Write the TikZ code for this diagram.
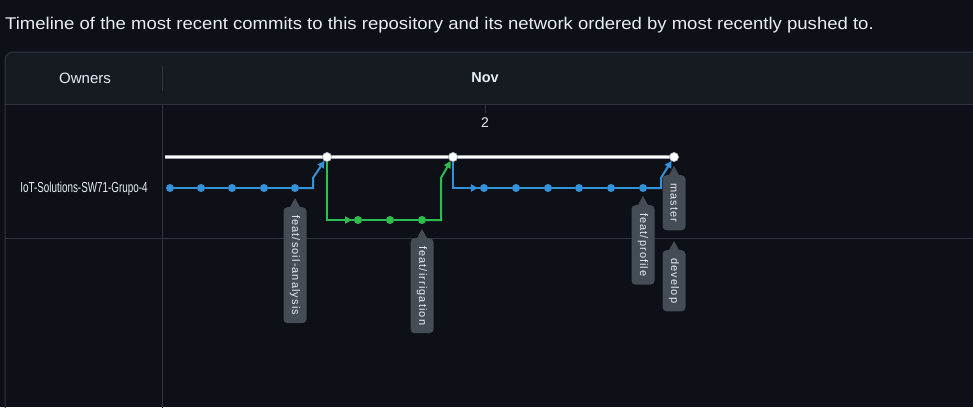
\documentclass[tikz,border=0pt]{standalone}
\usepackage{fontspec}
\setmainfont{Liberation Sans}
\newfontfamily\lblfontfam[LetterSpace=10]{Liberation Sans}
\usetikzlibrary{arrows.meta,calc}
\definecolor{pagebg}{HTML}{0D1117}
\definecolor{hdrbg}{HTML}{161B22}
\definecolor{bord}{HTML}{30363D}
\definecolor{fgtext}{HTML}{E6EDF3}
\definecolor{gitblue}{HTML}{3392D8}
\definecolor{gitgreen}{HTML}{2CBE4E}
\definecolor{lblgray}{HTML}{444C56}
\definecolor{wline}{HTML}{9AA4AE}
\tikzset{
  bdot/.style={circle, fill=gitblue, inner sep=0pt, minimum size=8pt, outer sep=0pt},
  gdot/.style={circle, fill=gitgreen, inner sep=0pt, minimum size=8pt, outer sep=0pt},
  wdot/.style={circle, fill=white, draw=wline, line width=0.5pt, inner sep=0pt, minimum size=9pt, outer sep=0pt},
  bline/.style={draw=gitblue, line width=2pt},
  gline/.style={draw=gitgreen, line width=2pt},
  tip/.style={-{Triangle[length=7pt,width=7pt]}},
  lbl/.style={rotate=-90, anchor=west, fill=lblgray, rounded corners=4pt, text=fgtext,
    font=\lblfontfam\fontsize{11}{13}\selectfont, inner xsep=8pt, inner ysep=0pt, minimum height=23pt},
  sep/.style={draw=bord, line width=1pt}
}
\newcommand{\pointer}[1]{\fill[lblgray] ($(#1.west)+(-5.5,1)$) -- ($(#1.west)+(0,-9)$) -- ($(#1.west)+(5.5,1)$) -- cycle;}
\begin{document}
\begin{tikzpicture}[x=1pt,y=-1pt]
\useasboundingbox (0,0) rectangle (973,407);
\fill[pagebg] (0,0) rectangle (973,407);
% header band
\fill[hdrbg] (5,104) -- (5,60) arc[start angle=180,end angle=270,radius=8] -- (990,52) -- (990,104) -- cycle;
\draw[sep] (5,420) -- (5,60) arc[start angle=180,end angle=270,radius=8] -- (990,52);
\draw[sep] (5,104) -- (990,104);
\draw[sep] (5,238) -- (990,238);
\draw[sep] (162,66) -- (162,91);
\draw[sep] (162,104) -- (162,420);
\draw[sep] (485,104) -- (485,113);
% texts
\node[anchor=west, text=fgtext, font=\fontsize{17}{20}\selectfont, inner sep=0pt, xscale=1.09] (title) at (5,25) {Timeline of the most recent commits to this repository and its network ordered by most recently pushed to.};
\node[text=fgtext, font=\fontsize{15}{18}\selectfont] (owners) at (85,78) {Owners};
\node[text=fgtext, font=\bfseries\fontsize{14.5}{17}\selectfont] (nov) at (485,78) {Nov};
\node[text=fgtext, font=\fontsize{14}{16}\selectfont] (day) at (485,123) {2};
\node[text=fgtext, font=\fontsize{14.5}{17}\selectfont, xscale=0.68] (owner) at (84,189) {IoT-Solutions-SW71-Grupo-4};
% master line
\coordinate (mstart) at (165,157);
\node[wdot] (w1) at (327,157) {};
\node[wdot] (w2) at (453,157) {};
\node[wdot] (w3) at (674,157) {};
% lane 1
\node[bdot] (b1) at (170,188) {};
\node[bdot] (b2) at (201,188) {};
\node[bdot] (b3) at (232,188) {};
\node[bdot] (b4) at (264,188) {};
\node[bdot] (b5) at (295,188) {};
\coordinate (k1) at (313,188);
\coordinate (k2) at (313,178);
% green lane
\coordinate (k3) at (327,220);
\node[gdot] (g1) at (358,220) {};
\node[gdot] (g2) at (390,220) {};
\node[gdot] (g3) at (422,220) {};
\coordinate (k4) at (441,220);
\coordinate (k5) at (441,178);
% lane 2
\coordinate (k6) at (453,188);
\node[bdot] (c1) at (484,188) {};
\node[bdot] (c2) at (516,188) {};
\node[bdot] (c3) at (548,188) {};
\node[bdot] (c4) at (579,188) {};
\node[bdot] (c5) at (611,188) {};
\node[bdot] (c6) at (643,188) {};
\coordinate (k7) at (661,188);
\coordinate (k8) at (661,178);
% connectors
\draw[draw=wline, line width=3.4pt] (mstart) -- (w3.center);
\draw[white, line width=1.8pt] (mstart) -- (w3.center);
\draw[bline] (b1) -- (b2) -- (b3) -- (b4) -- (b5);
\draw[bline, tip] (b5) -- (k1) -- (k2) -- (w1);
\draw[gline] (w1.center) -- (k3) -- ($(g1)+(-4,0)$);
\draw[gline, tip, shorten >=2pt] (k3) -- (g1);
\draw[gline] (g1) -- (g2) -- (g3);
\draw[gline, tip] (g3) -- (k4) -- (k5) -- (w2);
\draw[bline] (w2.center) -- (k6) -- ($(c1)+(-4,0)$);
\draw[bline, tip, shorten >=2pt] (k6) -- (c1);
\draw[bline] (c1) -- (c2) -- (c3) -- (c4) -- (c5) -- (c6);
\draw[bline, tip] (c6) -- (k7) -- (k8) -- (w3);
\node[wdot] at (w1) {};
\node[wdot] at (w2) {};
\node[wdot] at (w3) {};
% labels
\node[lbl] (l1) at (295,207) {feat/soil-analysis};
\node[lbl] (l2) at (422,238) {feat/irrigation};
\node[lbl] (l3) at (643,205) {feat/profile};
\node[lbl] (l4) at (674,175) {master};
\node[lbl] (l5) at (674,250) {develop};
\pointer{l1}\pointer{l2}\pointer{l3}\pointer{l4}\pointer{l5}
\end{tikzpicture}
\end{document}
